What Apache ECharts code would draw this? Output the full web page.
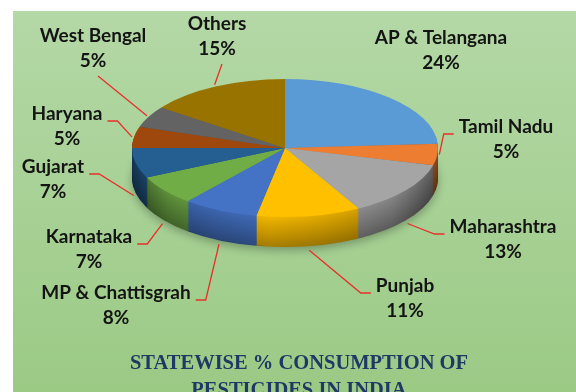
<!DOCTYPE html>
<html><head><meta charset="utf-8">
<script src="https://cdn.jsdelivr.net/npm/echarts@6/dist/echarts.min.js"></script>
<style>html,body{margin:0;padding:0;background:#fff}#c{width:576px;height:392px}</style>
</head><body><div id="c"></div>
<script>
// ---- data ----
const states = ['AP & Telangana','Tamil Nadu','Maharashtra','Punjab','MP & Chattisgrah','Karnataka','Gujarat','Haryana','West Bengal','Others'];
const shares = [24, 5, 13, 11, 8, 7, 7, 5, 5, 15];
const titleLines = ['STATEWISE % CONSUMPTION OF', 'PESTICIDES IN INDIA'];

// ---- styles / layout ----
const colors = ['#5B9BD5','#ED7D31','#A5A5A5','#FFC000','#4472C4','#70AD47','#255E91','#9E480E','#636363','#997300'];
const labelPos = [[441,50],[506,139],[503,239],[405,298],[116,305],[89,249],[53,179],[67,126],[93,48],[217,36]];
const showLeader = [false,true,true,true,true,true,true,true,true,true];
const CX = 285, CY = 148, RX = 153, RY = 69, DEPTH = 30;
const LABEL_FONT = 'bold 19px Lato';
const LINE_H = 25;

const total = shares.reduce((a,b)=>a+b,0);
const mctx = document.createElement('canvas').getContext('2d');
mctx.font = LABEL_FONT;

function shade(hex, f){
  const n = parseInt(hex.slice(1),16);
  const r = Math.round(((n>>16)&255)*f), g = Math.round(((n>>8)&255)*f), b = Math.round((n&255)*f);
  return 'rgb('+r+','+g+','+b+')';
}
function wallFill(hex, t){
  const base = 0.95 - 0.3*t;
  return new echarts.graphic.LinearGradient(CX-RX, 0, CX+RX, 0, [
    {offset:0, color: shade(hex, base*0.65)},
    {offset:0.12, color: shade(hex, base*0.88)},
    {offset:0.45, color: shade(hex, base)},
    {offset:0.85, color: shade(hex, base*0.85)},
    {offset:1, color: shade(hex, base*0.6)}
  ], true);
}

function renderItem(params, api){
  const i = params.dataIndex;
  let before = 0; for (let k=0;k<i;k++) before += shares[k];
  const a0 = -Math.PI/2 + before/total*2*Math.PI;
  const a1 = a0 + api.value(1)/total*2*Math.PI;
  const sy = RY/RX;
  const children = [];
  for (let k=DEPTH;k>=1;k--){
    const t = k/DEPTH;
    const el = {
      type:'sector', silent:true,
      shape:{cx:CX, cy:CY, r0:0, r:RX, startAngle:a0, endAngle:a1, clockwise:true},
      x:0, y:k, scaleY:sy, originX:CX, originY:CY,
      style:{fill: wallFill(colors[i], t)},
      z2: DEPTH-k
    };
    if (k===DEPTH){ el.style.shadowBlur = 10; el.style.shadowColor='rgba(0,0,0,0.3)'; el.style.shadowOffsetY = 3; }
    children.push(el);
  }
  children.push({
    type:'sector', silent:true,
    shape:{cx:CX, cy:CY, r0:0, r:RX, startAngle:a0, endAngle:a1, clockwise:true},
    scaleY:sy, originX:CX, originY:CY,
    style:{fill: colors[i]},
    z2: 100
  });
  const lx = labelPos[i][0], ly = labelPos[i][1];
  const pct = Math.round(api.value(1)/total*100) + '%';
  children.push({
    type:'text', silent:true, x:lx, y:ly, z2:200,
    style:{text: states[i] + '\n' + pct, font: LABEL_FONT, fill:'#141414', align:'center', verticalAlign:'middle', lineHeight: LINE_H}
  });
  if (showLeader[i]){
    const mid = (a0+a1)/2;
    let px = CX + (RX+2)*Math.cos(mid), py = CY + (RY+2)*Math.sin(mid);
    if (Math.sin(mid) > 0.15) py += DEPTH + 2;
    const w = Math.max(mctx.measureText(states[i]).width, mctx.measureText(pct).width);
    const h = 2*LINE_H;
    const dx = px - lx;
    let pts;
    if (Math.abs(dx) > w/2 + 2){
      const side = dx > 0 ? 1 : -1;
      const ex = lx + side*(w/2 + 5), ey = ly - 5;
      pts = [[ex, ey], [ex + side*10, ey], [px, py]];
    } else {
      const side = (py - ly) > 0 ? 1 : -1;
      const ex = lx + 5, ey = ly + side*(h/2 + 3);
      pts = [[ex, ey], [px, py]];
    }
    children.push({type:'polyline', silent:true, z2:150, shape:{points:pts}, style:{stroke:'#E8302A', lineWidth:1.3, fill:null}});
  }
  return {type:'group', children};
}

const chart = echarts.init(document.getElementById('c'), null, {renderer:'canvas'});
chart.setOption({
  backgroundColor:'#ffffff',
  animation:false,
  graphic:[
    {type:'rect', z:-10, silent:true, shape:{x:13, y:11, width:563, height:381},
     style:{fill: new echarts.graphic.LinearGradient(0,0,0,1,[{offset:0,color:'#b4d8a6'},{offset:1,color:'#9bca85'}])}},
    {type:'text', z:50, silent:true, x:299, y:350,
     style:{text: titleLines.join('\n'), font:'bold 20.5px "Liberation Serif", "DejaVu Serif", serif', fill:'#1F3864', align:'center', verticalAlign:'top', lineHeight:27}}
  ],
  series:[{
    type:'custom',
    coordinateSystem:'none',
    renderItem: renderItem,
    data: shares.map((v,i)=>[i, v])
  }]
});
</script></body></html>
